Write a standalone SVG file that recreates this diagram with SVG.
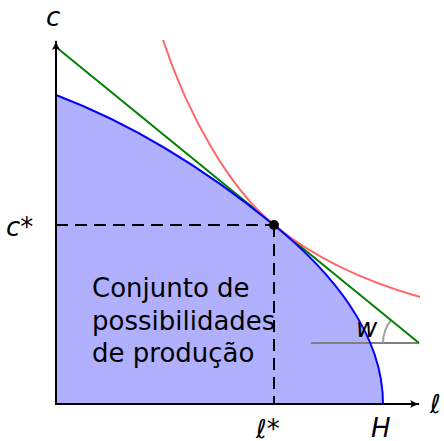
<svg xmlns="http://www.w3.org/2000/svg" width="444" height="441" viewBox="0 0 444 441">
<defs>
<style>
.lbl{font-family:"DejaVu Sans",sans-serif;font-style:oblique;font-size:26px;fill:#000}
.txt{font-family:"DejaVu Sans",sans-serif;font-size:26px;fill:#000}
.ax{stroke:#000;stroke-width:2;fill:none}
.dash{stroke:#000;stroke-width:2;fill:none;stroke-dasharray:12,7}
</style>
<marker id="arr" viewBox="0 0 10 10" refX="9" refY="5" markerWidth="10" markerHeight="10" markerUnits="userSpaceOnUse" orient="auto">
<path d="M0,1 Q5,4 10,5 Q5,6 0,9 Q3,5 0,1 Z" fill="#000"/>
</marker>
</defs>
<rect width="444" height="441" fill="#fff"/>
<g id="region">
<path d="M56,404 L56,95 C129,122.7 201,165.5 274,225 C329,269.8 383,332 383,404 Z" fill="#b0b0ff" stroke="none"/>
</g>
<g id="label-set">
<text class="txt" x="92" y="297">Conjunto de</text>
<text class="txt" x="92" y="329.5">possibilidades</text>
<text class="txt" x="92" y="362">de produção</text>
</g>
<g id="connectors">
<line class="dash" x1="56" y1="225" x2="274" y2="225"/>
<line class="dash" x1="274" y1="225" x2="274" y2="404"/>
<line x1="311" y1="343" x2="419" y2="343" stroke="#808080" stroke-width="2"/>
<path d="M383,343 A36,36 0 0 1 391.1,320.2" fill="none" stroke="#a0a0a0" stroke-width="2"/>
<line x1="56" y1="47" x2="419" y2="343" stroke="#008000" stroke-width="2"/>
<path d="M163,40 C188,115 229,188.3 274,225 C314,257.6 360,280 420,297" fill="none" stroke="#ff6666" stroke-width="2"/>
<path d="M56,95 C129,122.7 201,165.5 274,225 C329,269.8 383,332 383,404" fill="none" stroke="#0000ff" stroke-width="2"/>
<line class="ax" x1="56" y1="404" x2="56" y2="41" marker-end="url(#arr)"/>
<line class="ax" x1="55" y1="404" x2="419" y2="404" marker-end="url(#arr)"/>
</g>
<g id="point">
<circle cx="274" cy="225" r="5" fill="#000"/>
</g>
<g id="labels">
<text class="lbl" x="46" y="26">c</text>
<text class="lbl" x="6" y="236">c*</text>
<text class="lbl" x="256" y="438">ℓ*</text>
<text class="lbl" x="371" y="437">H</text>
<text class="lbl" x="430" y="413">ℓ</text>
<text class="lbl" x="356" y="337">w</text>
</g>
</svg>
